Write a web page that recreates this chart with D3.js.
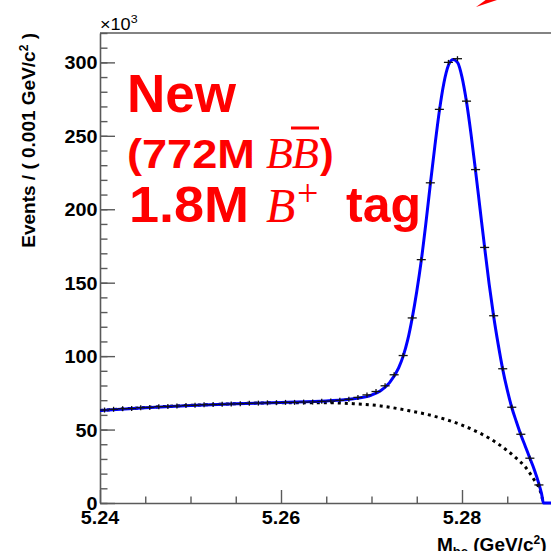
<!DOCTYPE html>
<html><head><meta charset="utf-8">
<script src="https://cdn.jsdelivr.net/npm/d3@7"></script>
<style>html,body{margin:0;padding:0;background:#fff;}svg{display:block;}</style>
</head><body>
<svg id="c" width="551" height="551"></svg>
<script>
// ---- data (values in units of 10^3 events) ----
const binCenters = [5.2405,5.2415,5.2425,5.2435,5.2445,5.2455,5.2465,5.2475,5.2485,5.2495,
  5.2505,5.2515,5.2525,5.2535,5.2545,5.2555,5.2565,5.2575,5.2585,5.2595,
  5.2605,5.2615,5.2625,5.2635,5.2645,5.2655,5.2665,5.2675,5.2685,5.2695,
  5.2705,5.2715,5.2725,5.2735,5.2745,5.2755,5.2765,5.2775,5.2785,5.2795,
  5.2805,5.2815,5.2825,5.2835,5.2845,5.2855,5.2865,5.2875,5.2885];
const counts = [63.3,63.8,64.2,64.3,64.9,65.1,65.6,65.7,66.0,66.4,
  66.5,66.9,67.0,67.2,67.4,67.6,67.9,68.0,68.2,68.3,
  68.5,68.5,68.7,68.8,69.2,69.4,69.9,70.6,71.9,73.6,
  75.9,79.8,87.3,100.4,126.0,165.7,218.0,268.0,300.0,302.5,
  273.6,227.0,174.0,127.5,91.4,65.2,46.8,30.5,12.3];
const fitX = [5.2400,5.2450,5.2500,5.2550,5.2600,5.2650,5.2680,5.2700,5.2710,5.2720,
  5.2730,5.2735,5.2740,5.2745,5.2750,5.2755,5.2760,5.2765,5.2770,5.2775,
  5.2780,5.2785,5.2790,5.2795,5.2800,5.2805,5.2810,5.2815,5.2820,5.2825,
  5.2830,5.2835,5.2840,5.2845,5.2850,5.2855,5.2860,5.2865,5.2870,5.2875,
  5.2880,5.2885,5.2888,5.2890,5.2900];
const fitY = [63.0,64.9,66.4,67.5,68.5,69.5,71.0,73.5,76.5,82.0,
  92.0,100.0,111.0,126.0,144.0,165.0,190.0,217.0,243.0,267.0,
  286.0,298.0,302.0,300.0,290.0,273.0,251.0,226.0,200.0,174.0,
  149.0,127.0,108.0,91.0,77.0,65.0,55.5,46.5,38.5,30.5,
  22.5,13.0,6.0,0.0,0.0];
const bkgX = [5.2400,5.2450,5.2500,5.2550,5.2600,5.2650,5.2680,5.2710,5.2740,5.2770,
  5.2800,5.2820,5.2840,5.2860,5.2870,5.2880,5.2886,5.2890];
const bkgY = [63.0,65.0,66.5,67.6,68.3,68.3,67.6,66.1,63.0,59.0,
  53.0,47.5,40.2,30.5,24.5,15.5,9.0,0.0];
const binWidth = 0.001;
const yMajorTicks = [0,50,100,150,200,250,300];
const yTickLabels = ["0","50","100","150","200","250","300"];
const yMinorTicks = d3.range(0,321,10);
const xMajorTicks = [5.24,5.26,5.28];
const xTickLabels = ["5.24","5.26","5.28"];
const xMinorTicks = [5.245,5.25,5.255,5.265,5.27,5.275,5.285];

// ---- layout ----
const svg = d3.select("#c");
const L = 100, R = 552.5, T = 33, B = 503;
const x = d3.scaleLinear().domain([5.24,5.29]).range([L,R]);
const y = d3.scaleLinear().domain([0,320]).range([B,T]);
const axisCol = "#5a5a5a";

// frame (top line) & axes
svg.append("line").attr("x1",L).attr("x2",R).attr("y1",T).attr("y2",T)
  .attr("stroke",axisCol).attr("stroke-width",1.6);

const gy = svg.append("g").attr("transform",`translate(${L},0)`);
gy.call(d3.axisRight(y).tickValues(yMinorTicks).tickSize(7.5).tickFormat(""));
gy.call(g=>g.select(".domain").remove());
const gy2 = svg.append("g").attr("transform",`translate(${L},0)`);
gy2.call(d3.axisRight(y).tickValues(yMajorTicks).tickSize(15).tickFormat("").tickSizeOuter(0));
[gy,gy2].forEach(g=>{g.selectAll("line").attr("stroke",axisCol).attr("stroke-width",1.4);
  g.selectAll("path").attr("stroke",axisCol).attr("stroke-width",1.6);});

const gx = svg.append("g").attr("transform",`translate(0,${B})`);
gx.call(d3.axisTop(x).tickValues(xMinorTicks).tickSize(6.5).tickFormat(""));
gx.call(g=>g.select(".domain").remove());
const gx2 = svg.append("g").attr("transform",`translate(0,${B})`);
gx2.call(d3.axisTop(x).tickValues(xMajorTicks).tickSize(13).tickFormat("").tickSizeOuter(0));
[gx,gx2].forEach(g=>{g.selectAll("line").attr("stroke",axisCol).attr("stroke-width",1.4);
  g.selectAll("path").attr("stroke",axisCol).attr("stroke-width",1.6);});

// tick labels
const lblFont = "'Liberation Sans',Arial,Helvetica,sans-serif";
yMajorTicks.forEach((v,i)=>{
  svg.append("text").attr("transform",`translate(${L-2.5},${y(v)+7}) scale(1.13,1)`)
    .attr("text-anchor","end").attr("font-family",lblFont).attr("font-weight","bold")
    .attr("font-size",17.5).attr("fill","#000").text(yTickLabels[i]);
});
xMajorTicks.forEach((v,i)=>{
  svg.append("text").attr("transform",`translate(${x(v)},${B+21}) scale(1.13,1)`)
    .attr("text-anchor","middle").attr("font-family",lblFont).attr("font-weight","bold")
    .attr("font-size",17.5).attr("fill","#000").text(xTickLabels[i]);
});

// x10^3
const e3 = svg.append("text").attr("transform",`translate(${L},30) scale(1.13,1)`).attr("font-family",lblFont)
  .attr("font-size",16).attr("fill","#000");
e3.append("tspan").text("\u00d710");
e3.append("tspan").attr("dy",-7).attr("font-size",11).text("3");

// y title
const yt = svg.append("text").attr("transform",`translate(35,${T}) rotate(-90)`)
  .attr("text-anchor","end").attr("font-family",lblFont).attr("font-weight","bold")
  .attr("font-size",19).attr("fill","#000");
yt.append("tspan").text("Events / ( 0.001 GeV/c");
yt.append("tspan").attr("dy",-7).attr("font-size",12).text("2");
yt.append("tspan").attr("dy",7).text(" )");

// x title
const xt = svg.append("text").attr("x",437).attr("y",551).attr("font-family",lblFont)
  .attr("font-weight","bold").attr("font-size",19).attr("fill","#000");
xt.append("tspan").text("M");
xt.append("tspan").attr("dy",5).attr("font-size",13).text("bc");
xt.append("tspan").attr("dy",-5).text(" (GeV/c");
xt.append("tspan").attr("dy",-7).attr("font-size",12).text("2");
xt.append("tspan").attr("dy",7).text(")");

// curves
const clipId = "clipPlot";
svg.append("clipPath").attr("id",clipId).append("rect").attr("x",L).attr("y",T).attr("width",R-L).attr("height",B-T+2);
const bkgLine = d3.line().x((d,i)=>x(bkgX[i])).y(d=>y(d)).curve(d3.curveMonotoneX);
svg.append("path").attr("d",bkgLine(bkgY)).attr("fill","none").attr("stroke","#000")
  .attr("stroke-width",3).attr("stroke-dasharray","3,4").attr("clip-path",`url(#${clipId})`);
const fitLine = d3.line().x((d,i)=>x(fitX[i])).y(d=>y(d)).curve(d3.curveMonotoneX);
svg.append("path").attr("d",fitLine(fitY)).attr("fill","none").attr("stroke","#0000ff")
  .attr("stroke-width",3).attr("clip-path",`url(#${clipId})`);

// data points with error bars
const pts = svg.append("g").attr("stroke","#111").attr("stroke-width",1.3);
counts.forEach((v,i)=>{
  const cx = x(binCenters[i]), cy = y(v);
  const err = Math.sqrt(v*1000)/1000;
  const eh = Math.max(y(0)-y(err), 2.5);
  pts.append("line").attr("x1",x(binCenters[i]-binWidth/2)).attr("x2",x(binCenters[i]+binWidth/2))
    .attr("y1",cy).attr("y2",cy);
  pts.append("line").attr("x1",cx).attr("x2",cx).attr("y1",cy-eh).attr("y2",cy+eh);
});

// red annotation
const red = "#ff0000";
const sans = "'Liberation Sans',Arial,Helvetica,sans-serif";
const serif = "'Liberation Serif','Times New Roman',serif";
svg.append("text").attr("x",127).attr("y",112).attr("font-family",sans).attr("font-weight","bold")
  .attr("font-size",53).attr("fill",red).text("New");
svg.append("text").attr("transform","translate(127,168) scale(1.1,1)").attr("font-family",sans)
  .attr("font-weight","bold").attr("font-size",41).attr("fill",red).text("(772M");
const l2 = svg.append("text").attr("y",168).attr("font-size",44).attr("fill",red)
  .attr("font-family",serif).attr("font-style","italic");
l2.append("tspan").attr("x",266).text("B");
l2.append("tspan").attr("x",292).text("B");
svg.append("text").attr("x",320).attr("y",168).attr("font-family",sans).attr("font-weight","bold")
  .attr("font-size",41).attr("fill",red).text(")");
svg.append("line").attr("x1",291).attr("x2",319).attr("y1",128).attr("y2",128).attr("stroke",red).attr("stroke-width",3);
svg.append("text").attr("transform","translate(129,222) scale(1.08,1)").attr("font-family",sans)
  .attr("font-weight","bold").attr("font-size",50).attr("fill",red).text("1.8M");
const l3 = svg.append("text").attr("y",222).attr("fill",red).attr("font-family",serif);
l3.append("tspan").attr("x",266).attr("font-style","italic").attr("font-size",48).text("B");
l3.append("tspan").attr("x",297).attr("dy",-16).attr("font-size",38).text("+");
svg.append("text").attr("x",346).attr("y",222).attr("font-family",sans).attr("font-weight","bold")
  .attr("font-size",50).attr("fill",red).text("tag");

// arrow fragment at top right
svg.append("path").attr("d","M476,7 L500,-1 L487,-1 Z").attr("fill",red);
</script>
</body></html>
